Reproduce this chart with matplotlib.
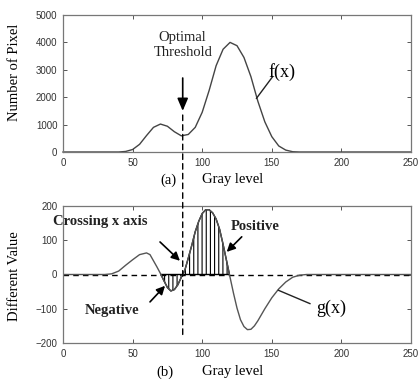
import numpy as np
import matplotlib
matplotlib.use('Agg')
import matplotlib.pyplot as plt
from matplotlib.patches import ConnectionPatch

# histogram f(x)
f_x = [0, 10, 20, 30, 40, 45, 50, 55, 60, 65, 70, 75, 80, 85, 90, 95, 100, 105,
       110, 115, 120, 125, 130, 135, 140, 145, 150, 155, 160, 165, 170, 200, 250]
f_y = [0, 0, 0, 0, 0, 20, 90, 280, 600, 900, 1020, 940, 740, 590, 640, 900, 1450,
       2250, 3150, 3750, 4000, 3880, 3450, 2750, 1850, 1100, 560, 220, 70, 10, 0, 0, 0]

# difference curve g(x)
g_x = [0, 10, 20, 30, 35, 40, 45, 50, 55, 60, 62.5, 65, 67.5, 70, 72.5, 75, 77.5,
       80, 82.5, 85, 87.5, 90, 92.5, 95, 97.5, 100, 102.5, 105, 107.5, 110, 112.5,
       115, 117.5, 120, 122.5, 125, 127.5, 130, 132.5, 135, 137.5, 140, 145, 150,
       155, 160, 165, 170, 175, 200, 250]
g_y = [0, 0, 0, 0, 2, 10, 27, 43, 58, 63, 58, 40, 22, 3, -18, -38, -48,
       -44, -30, -8, 12, 48, 85, 125, 155, 178, 189, 189, 180, 162, 132,
       88, 40, -8, -55, -98, -132, -152, -161, -160, -150, -135, -100, -68,
       -42, -22, -8, -2, 0, 0, 0]

threshold = 86

serif = 'Liberation Serif'
tickfont = 'Liberation Sans'
plt.rcParams['hatch.linewidth'] = 0.8

fig = plt.figure(figsize=(4.19, 3.79), dpi=100)
ax1 = fig.add_axes([63/419, 1-152/379, 348/419, 137/379])
ax2 = fig.add_axes([63/419, 1-343/379, 348/419, 137/379])

for ax in (ax1, ax2):
    ax.set_xlim(0, 250)
    ax.set_xticks([0, 50, 100, 150, 200, 250])
    ax.tick_params(direction='in', top=True, right=True, length=3, width=0.7,
                   colors='#555', labelcolor='#333', labelsize=7, pad=4)
    for lab in ax.get_xticklabels() + ax.get_yticklabels():
        lab.set_family(tickfont)
    for s in ax.spines.values():
        s.set_color('#777')
        s.set_linewidth(0.9)

# top panel
ax1.plot(f_x, f_y, color='#444', lw=1.0, clip_on=False)
ax1.set_ylim(0, 5000)
ax1.set_yticks([0, 1000, 2000, 3000, 4000, 5000])
ax1.text(-0.138, 0.584, 'Number of Pixel', transform=ax1.transAxes, rotation=90,
         ha='center', va='center', family=serif, fontsize=10.5)
ax1.text(0.302, -0.204, '(a)', transform=ax1.transAxes, ha='center', va='center',
         family=serif, fontsize=10.5)
ax1.text(0.487, -0.204, 'Gray level', transform=ax1.transAxes, ha='center',
         va='center', family=serif, fontsize=10.5)
ax1.text(threshold, 3905, 'Optimal\nThreshold', ha='center', va='center',
         family=serif, fontsize=10.5, linespacing=1.15, color='#222')
ax1.annotate('', xy=(threshold, 1500), xytext=(threshold, 2700),
             arrowprops=dict(arrowstyle='-|>,head_length=0.75,head_width=0.32',
                             color='k', lw=1.2, shrinkA=0, shrinkB=0))
ax1.text(157, 2920, 'f(x)', ha='center', va='center', family=serif, fontsize=13)
ax1.plot([150.6, 139], [2750, 1960], color='#222', lw=1.0)

# bottom panel
ax2.axhline(0, color='k', lw=1.0, ls=(0, (4, 3)))
ax2.plot(g_x, g_y, color='#555', lw=1.0)
gx = np.array(g_x)
gy = np.array(g_y)
sel = ((gy < 0) & (gx > 65) & (gx < 90)) | ((gy > 0) & (gx > 80) & (gx < 125))
ax2.fill_between(gx, gy, 0, where=sel, interpolate=True, facecolor='none',
                 edgecolor='k', hatch='||||', lw=1.0)
ax2.set_ylim(-200, 200)
ax2.set_yticks([-200, -100, 0, 100, 200])
ax2.text(-0.138, 0.49, 'Different Value', transform=ax2.transAxes, rotation=90,
         ha='center', va='center', family=serif, fontsize=10.5)
ax2.text(0.293, -0.21, '(b)', transform=ax2.transAxes, ha='center', va='center',
         family=serif, fontsize=10.5)
ax2.text(0.487, -0.21, 'Gray level', transform=ax2.transAxes, ha='center',
         va='center', family=serif, fontsize=10.5)

head = dict(arrowstyle='-|>,head_length=0.5,head_width=0.25', color='k', lw=1.2,
            shrinkA=0, shrinkB=0)
ax2.text(26.6, 154, 'Crossing x axis', ha='center', va='center', family=serif,
         fontsize=10.5, fontweight='bold', color='#222')
ax2.annotate('', xy=(84, 40), xytext=(69.7, 95), arrowprops=head)
ax2.text(35, -104, 'Negative', ha='center', va='center', family=serif,
         fontsize=10.5, fontweight='bold', color='#222')
ax2.annotate('', xy=(73.3, -33), xytext=(62.5, -80), arrowprops=head)
ax2.text(138, 139, 'Positive', ha='center', va='center', family=serif,
         fontsize=10.5, fontweight='bold', color='#222')
ax2.annotate('', xy=(117.6, 66), xytext=(128.4, 110), arrowprops=head)
ax2.text(193, -99, 'g(x)', ha='center', va='center', family=serif, fontsize=13)
ax2.plot([177.4, 154.7], [-85, -46], color='#222', lw=1.0)

# threshold line running through both panels
con = ConnectionPatch(xyA=(threshold, 1350), coordsA=ax1.transData,
                      xyB=(threshold, -177), coordsB=ax2.transData,
                      color='k', lw=1.0, ls=(0, (4, 3)))
fig.add_artist(con)

fig.savefig('out.png', dpi=100)
